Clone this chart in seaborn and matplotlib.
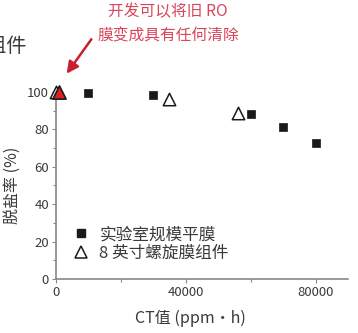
import numpy as np
import pandas as pd
import matplotlib
matplotlib.use('Agg')
import matplotlib.pyplot as plt
from matplotlib.lines import Line2D
import seaborn as sns

# lab-scale flat sheet membrane
flat_ct = [10000, 30000, 60000, 70000, 80000]
flat_rej = [99.3, 98.3, 88.0, 81.1, 72.6]
# 8-inch spiral wound element
spiral_ct = [0, 35000, 56000]
spiral_rej = [100, 96.2, 88.6]
# highlighted point
red_ct = [1000]
red_rej = [100]

flat_label = '实验室规模平膜'
spiral_label = '8 英寸螺旋膜组件'
note_text = '开发可以将旧 RO\n膜变成具有任何清除'

sns.set_style('ticks')
plt.rcParams['font.family'] = ['Noto Sans CJK SC', 'DejaVu Sans']

df_flat = pd.DataFrame({'ct': flat_ct, 'rej': flat_rej})
df_spiral = pd.DataFrame({'ct': spiral_ct, 'rej': spiral_rej})
df_red = pd.DataFrame({'ct': red_ct, 'rej': red_rej})

fig = plt.figure(figsize=(3.58, 3.33), dpi=100)
ax = fig.add_axes([0.156, 0.162, 0.816, 0.562])

axis_grey = '#888888'
text_grey = '#3a3a3a'

sns.scatterplot(data=df_flat, x='ct', y='rej', ax=ax, marker='s', s=32,
                color='#1a1a1a', edgecolor='#1a1a1a', linewidth=0.5, clip_on=False, zorder=3)
sns.scatterplot(data=df_spiral, x='ct', y='rej', ax=ax, marker='^', s=80,
                facecolor='white', edgecolor='#1a1a1a', linewidth=1.1, clip_on=False, zorder=3)
sns.scatterplot(data=df_red, x='ct', y='rej', ax=ax, marker='^', s=90,
                color='#e02020', edgecolor='#1a1a1a', linewidth=1.2, clip_on=False, zorder=4)

ax.set_xlim(0, 90000)
ax.set_ylim(0, 100)
ax.set_xticks([0, 40000, 80000])
ax.set_xticks([20000, 60000], minor=True)
ax.set_yticks([0, 20, 40, 60, 80, 100])
ax.set_yticks([10, 30, 50, 70, 90], minor=True)
ax.tick_params(axis='both', which='major', length=3, width=0.8, color=axis_grey,
               labelsize=9.5, labelcolor=text_grey, pad=2)
ax.tick_params(axis='both', which='minor', length=2, width=0.8, color=axis_grey)

sns.despine(ax=ax)
for side in ['left', 'bottom']:
    ax.spines[side].set_color(axis_grey)
    ax.spines[side].set_linewidth(1.2)

ax.set_xlabel('CT值 (ppm·h)', fontsize=11.5, color=text_grey, va='center')
ax.set_ylabel('脱盐率 (%)', fontsize=11.5, color=text_grey)
ax.xaxis.set_label_coords(0.462, -0.209)
ax.yaxis.set_label_coords(-0.12, 0.5)

handles = [
    Line2D([], [], marker='s', linestyle='none', markersize=5.5,
           markerfacecolor='#1a1a1a', markeredgecolor='#1a1a1a'),
    Line2D([], [], marker='^', linestyle='none', markersize=9,
           markerfacecolor='white', markeredgecolor='#1a1a1a', markeredgewidth=1.1),
]
leg = ax.legend(handles, [flat_label, spiral_label], loc='lower left',
                bbox_to_anchor=(0.018, 0.03), frameon=False, fontsize=12,
                handlelength=1.0, handletextpad=0.6, labelspacing=0.1,
                borderaxespad=0.3)
for t in leg.get_texts():
    t.set_color(text_grey)

# partially visible heading at the left edge, cut off as in the source
fig.text(27 / 358, 1 - 47 / 333, '膜组件', fontsize=14.5, color=text_grey,
         ha='right', va='center')

fig.text(168 / 358, 1 - 24 / 333, note_text, fontsize=11.3, color='#d9455a',
         fontweight='light', ha='center', va='center', linespacing=1.55)
ax.annotate('', xy=(65 / 358, 1 - 76 / 333), xycoords='figure fraction',
            xytext=(93 / 358, 1 - 37 / 333), textcoords='figure fraction',
            arrowprops=dict(arrowstyle='-|>,head_length=0.7,head_width=0.35',
                            color='#c8202f', lw=1.8),
            annotation_clip=False)

fig.savefig('out.png', dpi=100)
